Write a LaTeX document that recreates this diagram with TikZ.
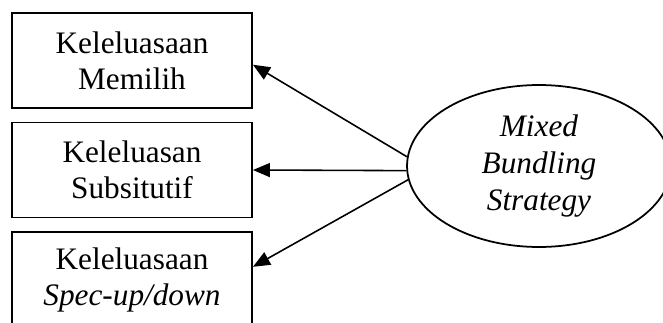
\documentclass[tikz,border=0pt]{standalone}
\usepackage{fontspec}
\setmainfont{Liberation Serif}
\usetikzlibrary{shapes,arrows.meta}
\tikzstyle{kb}=[rectangle,draw=black,line width=1.1pt,inner sep=0pt,
  minimum width=4.8cm,minimum height=1.9cm,align=center,
  font=\fontsize{17.8}{20.5}\selectfont]
\tikzstyle{lv}=[ellipse,draw=black,line width=1pt,inner sep=0pt,
  minimum width=5.28cm,minimum height=3.24cm,align=center,
  font=\fontsize{17.8}{21}\selectfont\itshape]
\tikzstyle{pa}=[line width=0.9pt,-{Triangle[length=0.34cm,width=0.28cm]}]

\begin{document}
\begin{tikzpicture}[x=0.02cm,y=-0.02cm]
    \useasboundingbox (0,0) rectangle (663,322);
    \clip (0,0) rectangle (663,322);
    \node [style=kb] (1k) at (132,60.5) {Keleluasaan\\Memilih};
    \node [style=kb] (2k) at (132,170) {Keleluasan\\Subsitutif};
    \node [style=kb] (3k) at (132,279.5) {Keleluasaan\\\textit{Spec-up/down}};
    \node [style=lv] (mbs) at (539,166) {Mixed\\Bundling\\Strategy};
    \draw [style=pa] (mbs.176) to (1k.-2);
    \draw [style=pa] (mbs.182) to (2k.east);
    \draw [style=pa] (mbs.186) to (3k.6);
  \end{tikzpicture}
\end{document}
